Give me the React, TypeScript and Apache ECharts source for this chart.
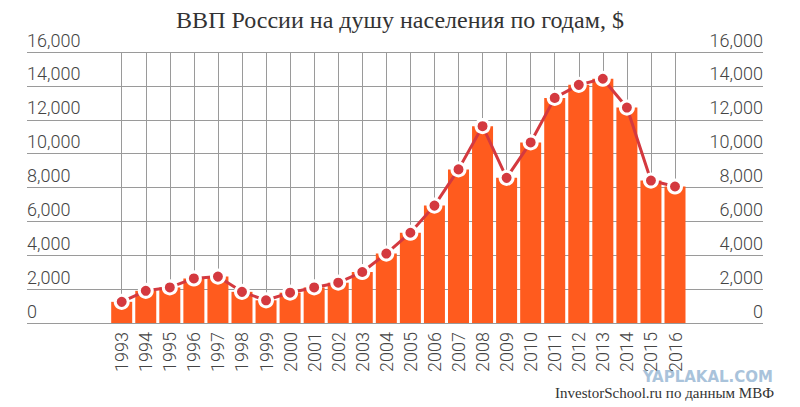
import React, { useEffect, useRef } from "react";
import * as echarts from "echarts";

const years = ["1993","1994","1995","1996","1997","1998","1999","2000","2001","2002","2003","2004","2005","2006","2007","2008","2009","2010","2011","2012","2013","2014","2015","2016"];
const gdp = [1250, 1900, 2100, 2630, 2740, 1840, 1340, 1790, 2100, 2380, 3010, 4100, 5330, 6930, 9070, 11620, 8570, 10660, 13290, 14060, 14420, 12720, 8410, 8060];
const yTicks = { min: 0, max: 16000, interval: 2000 };
const titleText = "ВВП России на душу населения по годам, $";
const sourceText = "InvestorSchool.ru по данным МВФ";
const watermarkText = "YAPLAKAL.COM";

const fmt = (v: number) => v.toLocaleString("en-US");

export default function App() {
  const ref = useRef<HTMLDivElement>(null);
  useEffect(() => {
    document.body.style.margin = "0";
    const chart = echarts.init(ref.current!, undefined, { renderer: "svg" });
    const gridLine = { show: true, lineStyle: { color: "#9a9a9a", width: 1 } };
    const labelStyle = {
      fontFamily: "Roboto",
      fontSize: 18,
      fontWeight: 300,
      color: "#444",
    };
    chart.setOption({
      animation: false,
      backgroundColor: "#ffffff",
      title: {
        text: titleText,
        left: "center",
        top: 3,
        textStyle: { fontFamily: "Liberation Serif", fontSize: 24, fontWeight: "normal", color: "#333" },
      },
      grid: [
        { left: 27, right: 37, top: 52, bottom: 84 },
        { left: 121.7, right: 125, top: 52, bottom: 84 },
      ],
      xAxis: [
        { gridIndex: 0, type: "value", show: false, min: 0, max: 1 },
        {
          gridIndex: 1,
          type: "category",
          data: years,
          boundaryGap: false,
          axisLine: { show: false },
          axisTick: { show: false },
          splitLine: { ...gridLine, interval: 0 },
          axisLabel: { ...labelStyle, rotate: 90, margin: 9, interval: 0 },
        },
      ],
      yAxis: [
        {
          gridIndex: 0,
          type: "value",
          position: "left",
          ...yTicks,
          axisLine: { show: false },
          axisTick: { show: false },
          splitLine: gridLine,
          axisLabel: { ...labelStyle, inside: true, margin: 0, verticalAlign: "bottom", lineHeight: 18, padding: [0, 0, 3, 0], formatter: fmt },
        },
        {
          gridIndex: 0,
          type: "value",
          position: "right",
          ...yTicks,
          axisLine: { show: false },
          axisTick: { show: false },
          splitLine: { show: false },
          axisLabel: { ...labelStyle, inside: true, margin: 0, verticalAlign: "bottom", lineHeight: 18, padding: [0, 0, 3, 0], formatter: fmt },
        },
        { gridIndex: 1, type: "value", ...yTicks, show: false },
      ],
      series: [
        {
          type: "bar",
          xAxisIndex: 1,
          yAxisIndex: 2,
          data: gdp,
          barWidth: 21,
          clip: false,
          itemStyle: { color: "#ff5b1e" },
        },
        {
          type: "line",
          xAxisIndex: 1,
          yAxisIndex: 2,
          data: gdp,
          clip: false,
          symbol: "circle",
          symbolSize: 13,
          lineStyle: { color: "#d4393f", width: 3 },
          itemStyle: { color: "#d4393f", borderColor: "#ffffff", borderWidth: 3 },
        },
      ],
      graphic: [
        {
          type: "text",
          right: 27,
          top: 369,
          style: { text: watermarkText, fontFamily: "DejaVu Sans", fontWeight: "bold", fontSize: 15, fill: "#a9c3db" },
        },
        {
          type: "text",
          right: 26,
          top: 385,
          style: { text: sourceText, fontFamily: "Liberation Serif", fontSize: 15, fill: "#333" },
        },
      ],
    });
    return () => chart.dispose();
  }, []);
  return <div ref={ref} style={{ width: 800, height: 407 }} />;
}
